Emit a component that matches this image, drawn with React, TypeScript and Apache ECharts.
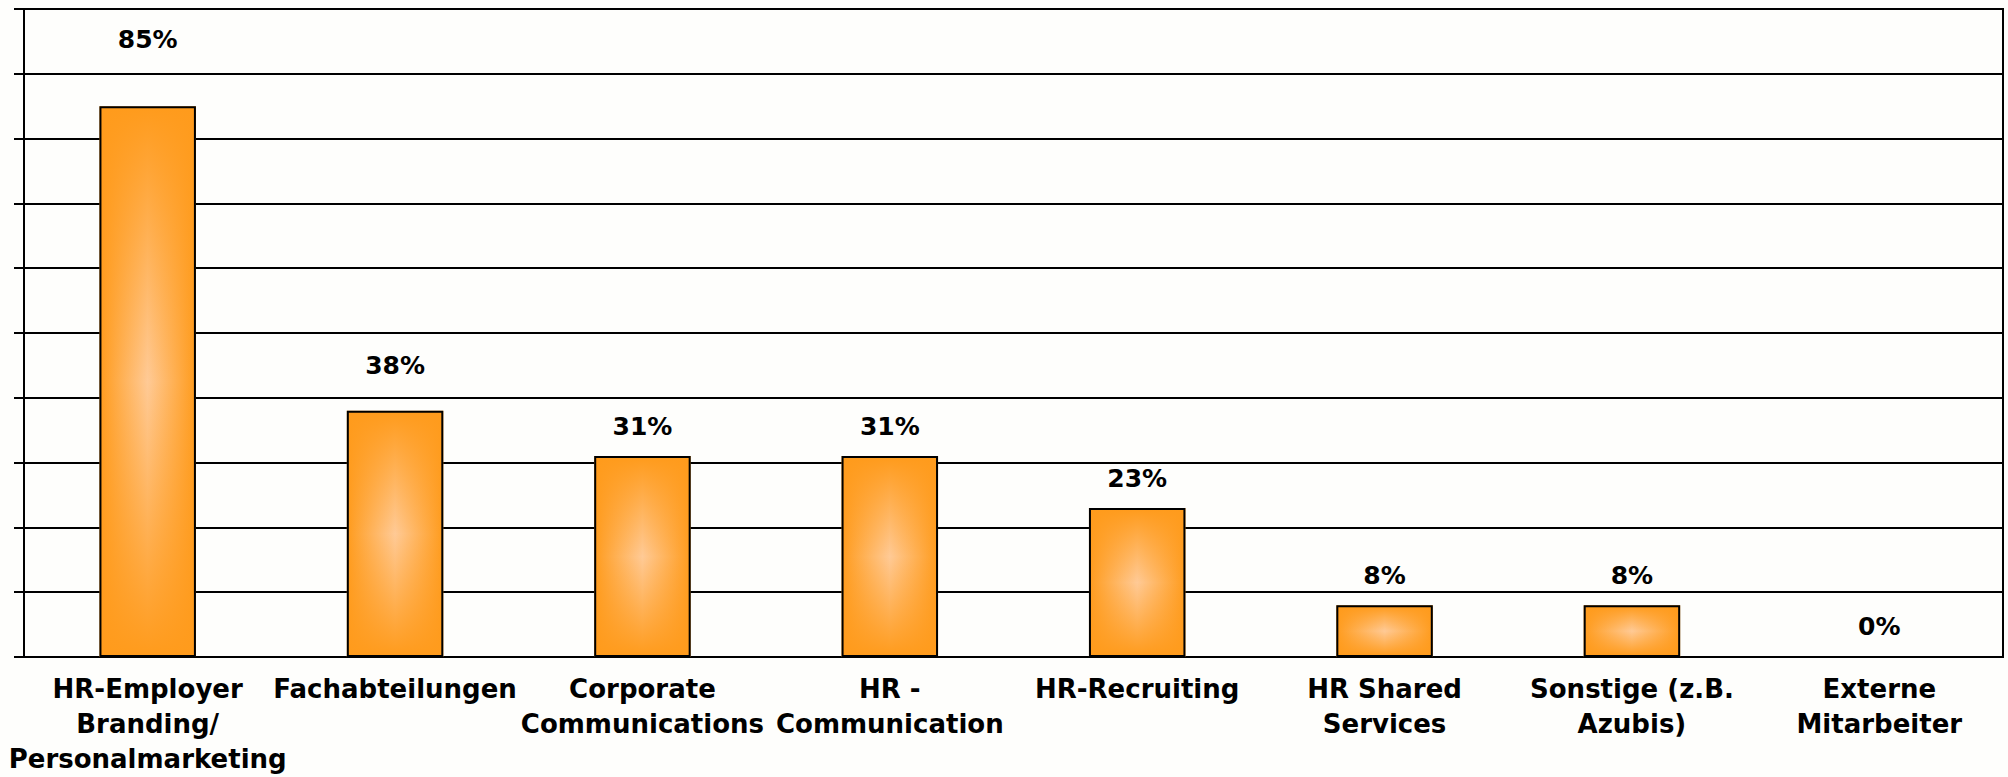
import React, { useEffect, useRef } from "react";
import * as echarts from "echarts";

const categories = [
  "HR-Employer\nBranding/\nPersonalmarketing",
  "Fachabteilungen",
  "Corporate\nCommunications",
  "HR -\nCommunication",
  "HR-Recruiting",
  "HR Shared\nServices",
  "Sonstige (z.B.\nAzubis)",
  "Externe\nMitarbeiter",
];
const values = [85, 38, 31, 31, 23, 8, 8, 0];
const yMin = 0;
const yMax = 100;
const yInterval = 10;

const ORANGE = "#ff9b1c";
const LIGHT = "#ffca96";
const FONT = "DejaVu Sans";

export default function App() {
  const ref = useRef<HTMLDivElement>(null);
  useEffect(() => {
    if (!ref.current) return;
    const chart = echarts.init(ref.current, undefined, { renderer: "svg" });
    const labelDistance = (i: number) => (i === 0 ? 54 : i === 1 ? 33 : 17);
    chart.setOption({
      animation: false,
      backgroundColor: "#fefefc",
      grid: {
        left: 24,
        right: 5,
        top: 9,
        bottom: 120,
        show: true,
        borderColor: "#000",
        borderWidth: 2,
        backgroundColor: "transparent",
      },
      xAxis: {
        type: "category",
        data: categories,
        axisLine: { show: true, lineStyle: { color: "#000", width: 2 } },
        axisTick: { show: false },
        axisLabel: {
          interval: 0,
          margin: 14,
          color: "#000",
          fontFamily: FONT,
          fontWeight: "bold",
          fontSize: 26,
          lineHeight: 35,
          align: "center",
        },
      },
      yAxis: {
        type: "value",
        min: yMin,
        max: yMax,
        interval: yInterval,
        axisLine: { show: true, lineStyle: { color: "#000", width: 2 } },
        axisTick: { show: true, length: 10, lineStyle: { color: "#000", width: 2 } },
        axisLabel: { show: false },
        splitLine: { show: true, lineStyle: { color: "#000", width: 2 } },
      },
      series: [
        {
          type: "bar",
          data: values,
          barWidth: "39%",
          z: 2,
          itemStyle: {
            color: {
              type: "linear",
              x: 0, y: 0, x2: 1, y2: 0,
              colorStops: [
                { offset: 0, color: ORANGE },
                { offset: 0.5, color: LIGHT },
                { offset: 1, color: ORANGE },
              ],
            },
            borderWidth: 0,
          },
          silent: true,
        },
        {
          type: "bar",
          barGap: "-100%",
          barWidth: "39%",
          z: 3,
          data: values.map((v, i) => ({
            value: v,
            label: { distance: labelDistance(i) },
          })),
          itemStyle: {
            color: {
              type: "linear",
              x: 0, y: 0, x2: 0, y2: 1,
              colorStops: [
                { offset: 0, color: "rgba(255,155,28,1)" },
                { offset: 0.5, color: "rgba(255,155,28,0)" },
                { offset: 1, color: "rgba(255,155,28,1)" },
              ],
            },
            borderColor: "#000",
            borderWidth: 2,
          },
          label: {
            show: true,
            position: "top",
            formatter: "{c}%",
            color: "#000",
            fontFamily: FONT,
            fontWeight: "bold",
            fontSize: 25,
          },
        },
      ],
    });
    return () => chart.dispose();
  }, []);
  return (
    <div
      ref={ref}
      style={{ position: "fixed", left: 0, top: 0, width: 2008, height: 777 }}
    />
  );
}
